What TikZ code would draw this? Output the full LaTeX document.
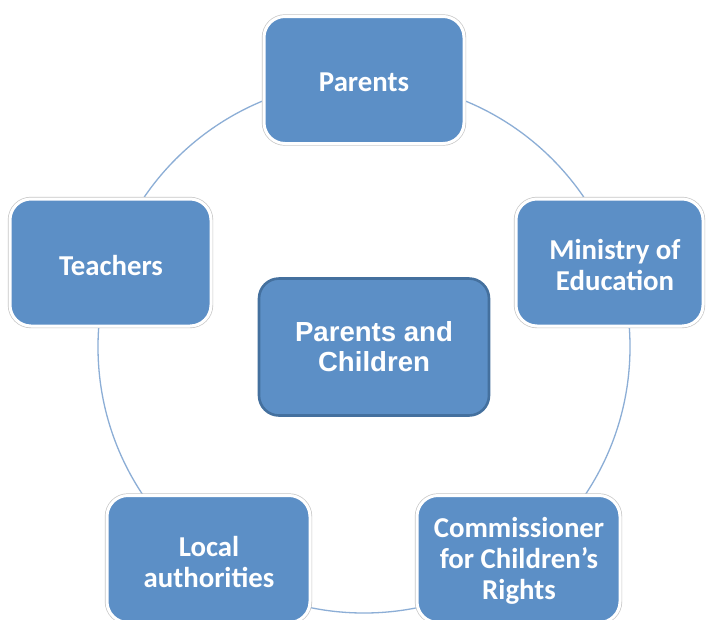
\documentclass[tikz,border=0pt]{standalone}
\usepackage{fontspec}
\setmainfont{Carlito}
\newfontfamily\arialfont{Liberation Sans}
\definecolor{boxblue}{RGB}{92,143,198}
\definecolor{darkborder}{RGB}{68,112,158}
\definecolor{ringblue}{RGB}{140,174,214}
\tikzset{
  outerbox/.style={rounded corners=21pt, fill=boxblue, draw=white, line width=3pt,
    preaction={draw=black!22, line width=4.4pt}, minimum height=127pt},
  boxtext/.style={text=white, font=\fontsize{28.8}{31}\selectfont\bfseries, align=center, inner sep=0pt},
  centerbox/.style={rounded corners=20pt, fill=boxblue, draw=darkborder, line width=2.6pt,
    minimum width=230pt, minimum height=137pt, text=white,
    font=\arialfont\fontsize{27.6}{30}\selectfont\bfseries, align=center},
  ring/.style={draw=ringblue, line width=1.3pt}
}
\begin{document}
\begin{tikzpicture}[x=1pt,y=-1pt]
\useasboundingbox (0,0) rectangle (706,619);
\fill[white] (0,0) rectangle (706,619);
\coordinate (hub) at (364,347);
\draw[ring] (hub) circle[radius=266pt];
\node[outerbox, minimum width=200pt] (parents) at (364,80) {};
\node[boxtext] (parentslabel) at (364,82) {Parents};
\node[outerbox, minimum width=201pt] (teachers) at (110.5,262.5) {};
\node[boxtext] (teacherslabel) at (111,265) {Teachers};
\node[outerbox, minimum width=187pt] (ministry) at (609.5,262.5) {};
\node[boxtext] (ministrylabel) at (615,265) {Ministry of\\Education};
\node[outerbox, minimum width=203pt] (local) at (208.5,559) {};
\node[boxtext] (locallabel) at (209,562) {Local\\authorities};
\node[outerbox, minimum width=203pt] (commissioner) at (518.5,559) {};
\node[boxtext] (commissionerlabel) at (519,561) {Commissioner\\for Children’s\\Rights};
\node[centerbox] (center) at (374,347) {Parents and\\Children};
\end{tikzpicture}
\end{document}
